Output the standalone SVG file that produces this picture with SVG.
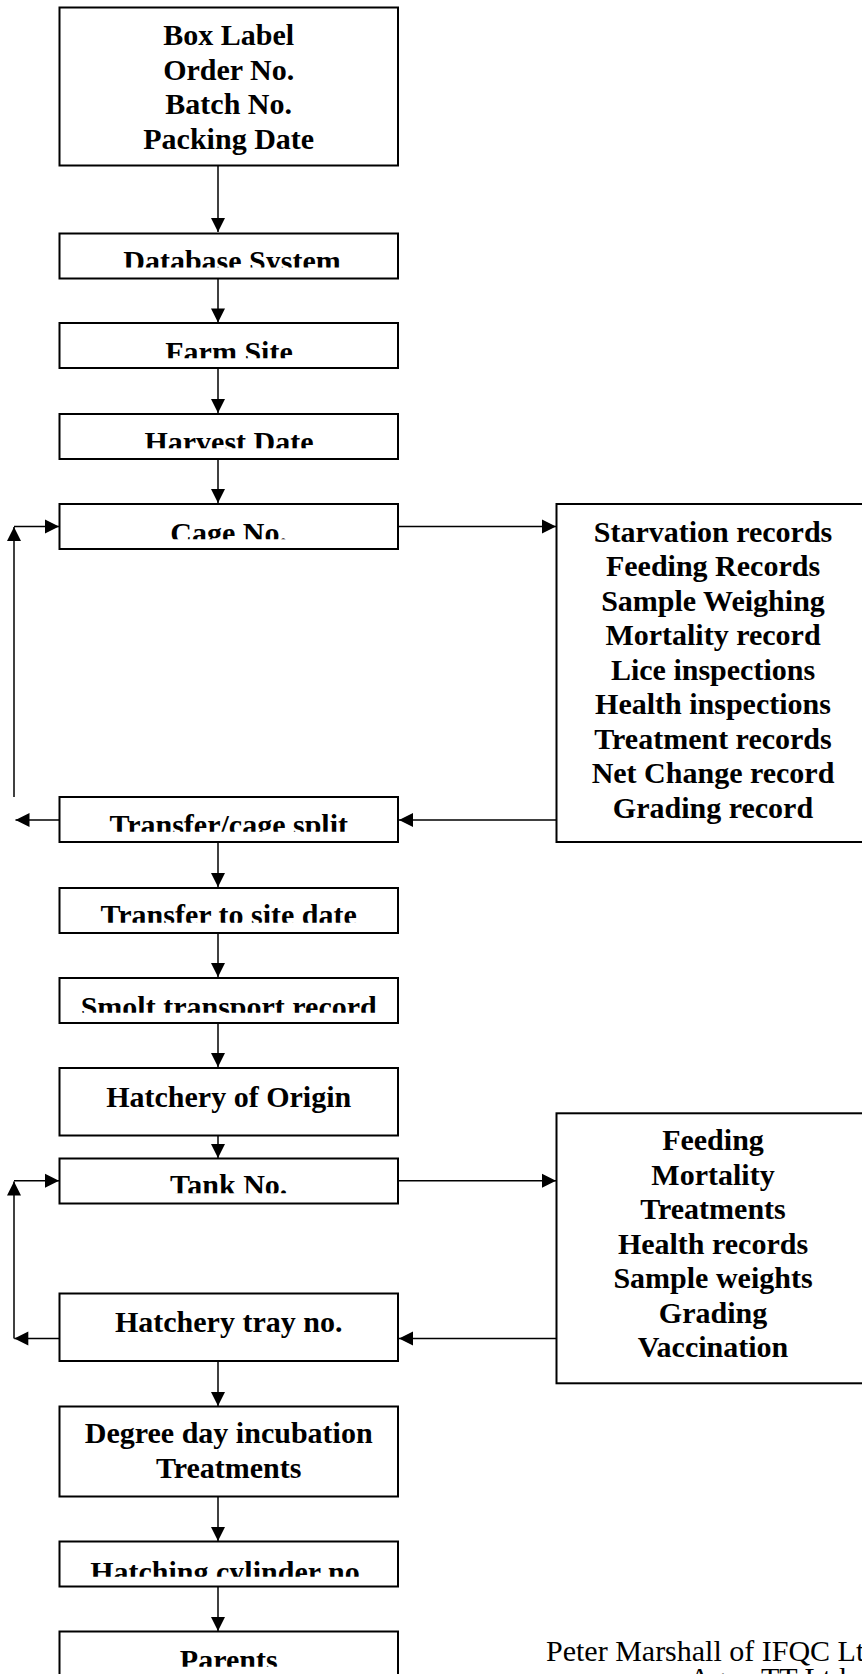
<svg xmlns="http://www.w3.org/2000/svg" width="862" height="1674" viewBox="0 0 862 1674">
<style>
.box{fill:#fff;stroke:#000;stroke-width:2}
.t{font-family:"Liberation Serif","Times New Roman",serif;font-weight:bold;font-size:30px;text-anchor:middle;fill:#000}
.n{font-family:"Liberation Serif","Times New Roman",serif;font-size:30px;fill:#000}
.c{fill:none;stroke:#000;stroke-width:1.5;marker-end:url(#ah)}
</style>
<defs>
<marker id="ah" markerUnits="userSpaceOnUse" markerWidth="15" markerHeight="14" refX="14" refY="7" orient="auto" overflow="visible">
<path d="M0,0 L14,7 L0,14 z" fill="#000"/>
</marker>
<clipPath id="c2"><rect x="60" y="234" width="338" height="33.5"/></clipPath>
<clipPath id="c3"><rect x="60" y="324" width="338" height="34.3"/></clipPath>
<clipPath id="c4"><rect x="60" y="415" width="338" height="33.3"/></clipPath>
<clipPath id="c5"><rect x="60" y="505" width="338" height="34.3"/></clipPath>
<clipPath id="c6"><rect x="60" y="798" width="338" height="33.7"/></clipPath>
<clipPath id="c7"><rect x="60" y="889" width="338" height="33.7"/></clipPath>
<clipPath id="c8"><rect x="60" y="979" width="338" height="33.7"/></clipPath>
<clipPath id="c9"><rect x="60" y="1159" width="338" height="34.3"/></clipPath>
<clipPath id="c12"><rect x="60" y="1542" width="338" height="34.7"/></clipPath>
<clipPath id="c13"><rect x="60" y="1632" width="338" height="34.7"/></clipPath>
</defs>
<rect width="862" height="1674" fill="#fff"/>

<g id="connectors">
<path class="c" d="M218,165.5 V232"/>
<path class="c" d="M218,278.5 V322.5"/>
<path class="c" d="M218,368 V413"/>
<path class="c" d="M218,459 V503"/>
<path class="c" d="M398,526.5 H556"/>
<path class="c" d="M14,797 V527"/>
<path class="c" d="M14,526.5 H59"/>
<path class="c" d="M59,820 H15.5"/>
<path class="c" d="M556.5,820 H399"/>
<path class="c" d="M218,842 V887"/>
<path class="c" d="M218,933 V977"/>
<path class="c" d="M218,1023 V1067"/>
<path class="c" d="M218,1135.5 V1158"/>
<path class="c" d="M398,1180.7 H556"/>
<path class="c" d="M14,1338.5 V1181.5"/>
<path class="c" d="M14,1180.7 H59"/>
<path class="c" d="M59,1338.5 H14.3"/>
<path class="c" d="M556.5,1338.5 H399"/>
<path class="c" d="M218,1361 V1406"/>
<path class="c" d="M218,1496.5 V1541"/>
<path class="c" d="M218,1583 V1631"/>
</g>

<g id="box-label">
<rect class="box" x="59.5" y="7.5" width="338.5" height="158"/>
<text class="t" x="228.7" y="45">Box Label</text>
<text class="t" x="228.7" y="79.5">Order No.</text>
<text class="t" x="228.7" y="114">Batch No.</text>
<text class="t" x="228.7" y="148.5">Packing Date</text>
</g>
<g id="database-system">
<rect class="box" x="59.5" y="233.5" width="338.5" height="45"/>
<text class="t" x="232" y="270.5" clip-path="url(#c2)">Database System</text>
</g>
<g id="farm-site">
<rect class="box" x="59.5" y="323" width="338.5" height="45"/>
<text class="t" x="229" y="361.5" clip-path="url(#c3)">Farm Site</text>
</g>
<g id="harvest-date">
<rect class="box" x="59.5" y="414" width="338.5" height="45"/>
<text class="t" x="229" y="451.5" clip-path="url(#c4)">Harvest Date</text>
</g>
<g id="cage-no">
<rect class="box" x="59.5" y="504" width="338.5" height="45"/>
<text class="t" x="228.7" y="543" clip-path="url(#c5)">Cage No.</text>
</g>
<g id="cage-records">
<rect class="box" x="556.5" y="504" width="330" height="338"/>
<text class="t" x="713" y="541.7">Starvation records</text>
<text class="t" x="713" y="576.2">Feeding Records</text>
<text class="t" x="713" y="610.7">Sample Weighing</text>
<text class="t" x="713" y="645.2">Mortality record</text>
<text class="t" x="713" y="679.7">Lice inspections</text>
<text class="t" x="713" y="714.2">Health inspections</text>
<text class="t" x="713" y="748.7">Treatment records</text>
<text class="t" x="713" y="783.2">Net Change record</text>
<text class="t" x="713" y="817.7">Grading record</text>
</g>
<g id="transfer-cage-split">
<rect class="box" x="59.5" y="797" width="338.5" height="45"/>
<text class="t" x="228.7" y="835" clip-path="url(#c6)">Transfer/cage split</text>
</g>
<g id="transfer-to-site-date">
<rect class="box" x="59.5" y="888" width="338.5" height="45"/>
<text class="t" x="228.7" y="925" clip-path="url(#c7)">Transfer to site date</text>
</g>
<g id="smolt-transport-record">
<rect class="box" x="59.5" y="978" width="338.5" height="45"/>
<text class="t" x="228.7" y="1016.5" clip-path="url(#c8)">Smolt transport record</text>
</g>
<g id="hatchery-of-origin">
<rect class="box" x="59.5" y="1068" width="338.5" height="67.5"/>
<text class="t" x="228.7" y="1106.7">Hatchery of Origin</text>
</g>
<g id="tank-no">
<rect class="box" x="59.5" y="1158.5" width="338.5" height="45"/>
<text class="t" x="228.7" y="1195" clip-path="url(#c9)">Tank No.</text>
</g>
<g id="tank-records">
<rect class="box" x="556.5" y="1113.3" width="330" height="270"/>
<text class="t" x="713" y="1150">Feeding</text>
<text class="t" x="713" y="1184.5">Mortality</text>
<text class="t" x="713" y="1219">Treatments</text>
<text class="t" x="713" y="1253.5">Health records</text>
<text class="t" x="713" y="1288">Sample weights</text>
<text class="t" x="713" y="1322.5">Grading</text>
<text class="t" x="713" y="1357">Vaccination</text>
</g>
<g id="hatchery-tray-no">
<rect class="box" x="59.5" y="1293.5" width="338.5" height="67.5"/>
<text class="t" x="228.7" y="1332">Hatchery tray no.</text>
</g>
<g id="degree-day">
<rect class="box" x="59.5" y="1406.5" width="338.5" height="90"/>
<text class="t" x="228.7" y="1442.7">Degree day incubation</text>
<text class="t" x="228.7" y="1477.5">Treatments</text>
</g>
<g id="hatching-cylinder-no">
<rect class="box" x="59.5" y="1541.5" width="338.5" height="45"/>
<text class="t" x="228.7" y="1581.5" clip-path="url(#c12)">Hatching cylinder no.</text>
</g>
<g id="parents">
<rect class="box" x="59.5" y="1631.5" width="338.5" height="60"/>
<text class="t" x="228.7" y="1670" clip-path="url(#c13)">Parents</text>
</g>
<g id="credit">
<text class="n" x="546" y="1661">Peter Marshall of IFQC Ltd</text>
<text class="n" x="689" y="1688">Aqua TT Ltd</text>
</g>
</svg>
